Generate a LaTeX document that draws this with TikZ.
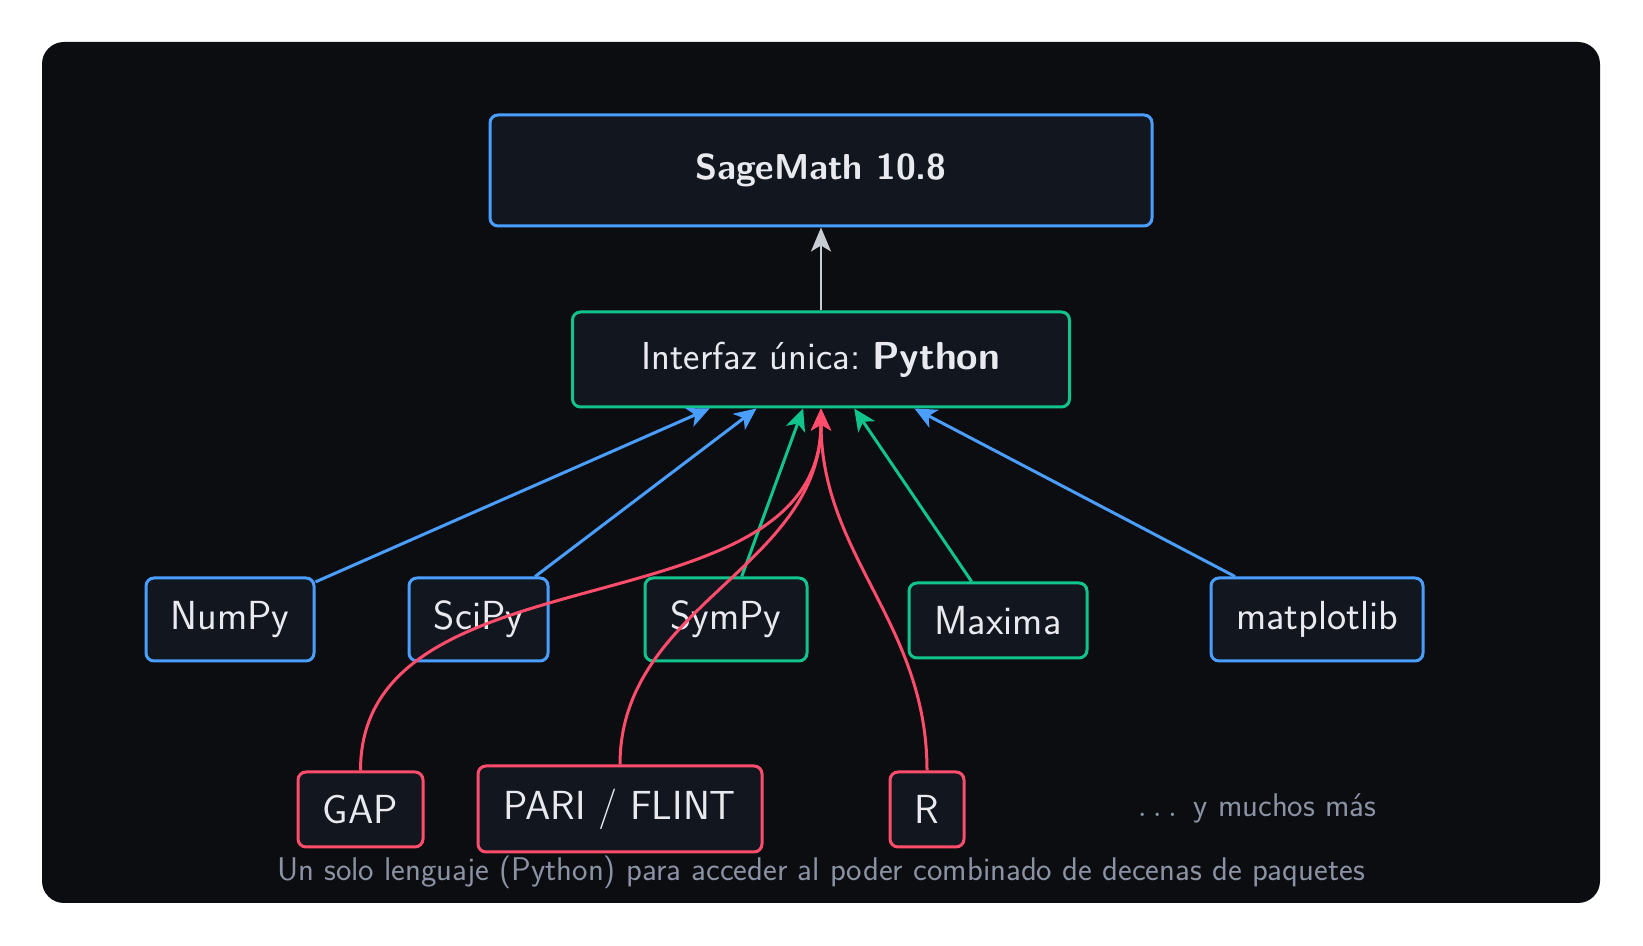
\documentclass[tikz,border=0pt]{standalone}
\usetikzlibrary{arrows.meta}
\definecolor{pagebg}{HTML}{0C0D11}
\definecolor{nodefill}{HTML}{12161F}
\definecolor{cblue}{HTML}{4A9EFF}
\definecolor{cgreen}{HTML}{10C48C}
\definecolor{cred}{HTML}{FF4D6B}
\definecolor{ctext}{HTML}{E8EAF0}
\definecolor{cgray}{HTML}{8A92A4}
\definecolor{carrow}{HTML}{C8CCD3}
\frenchspacing
\tikzset{
  box/.style={draw, rounded corners=4pt, fill=nodefill, line width=1.5pt, text=ctext,
    inner sep=0pt, font=\sffamily\fontsize{20.3}{24}\selectfont},
  bluebox/.style={box, draw=cblue},
  greenbox/.style={box, draw=cgreen},
  redbox/.style={box, draw=cred},
  link/.style={line width=1.5pt, -{Stealth[length=11pt,width=10pt,inset=3pt]}},
  note/.style={text=cgray, font=\sffamily\fontsize{16.4}{20}\selectfont, inner sep=0pt}
}
\begin{document}
\begin{tikzpicture}[x=0.5pt,y=0.5pt]
\useasboundingbox (0,0) rectangle (1643,946);
\fill[white] (0,0) rectangle (1643,946);
\fill[pagebg, rounded corners=11pt] (42,43) rectangle (1600,904);

\node[bluebox, minimum width=331pt, minimum height=55.5pt, font=\sffamily\bfseries\fontsize{18}{22}\selectfont] (sage) at (821,775.5) {SageMath 10.8};
\node[greenbox, minimum width=248.5pt, minimum height=47.5pt, font=\sffamily\fontsize{19.5}{23}\selectfont] (python) at (821,586.5) {Interfaz única: \textbf{Python}};

\node[bluebox, minimum width=84pt, minimum height=41.5pt] (numpy) at (230,326.5) {NumPy};
\node[bluebox, minimum width=69.5pt, minimum height=41.5pt] (scipy) at (478.5,326.5) {SciPy};
\node[greenbox, minimum width=81pt, minimum height=41.5pt] (sympy) at (726,326.5) {SymPy};
\node[greenbox, minimum width=89pt, minimum height=37.5pt] (maxima) at (998,325.5) {Maxima};
\node[bluebox, minimum width=106pt, minimum height=41.5pt] (mpl) at (1317,326.5) {matplotlib};

\node[redbox, minimum width=62.5pt, minimum height=37.5pt] (gap) at (360.5,136.5) {GAP};
\node[redbox, minimum width=142pt, minimum height=43pt] (pari) at (620,137) {PARI / FLINT};
\node[redbox, minimum width=37pt, minimum height=37.5pt] (r) at (927,136.5) {R};

\node[note] (more) at (1257,138) {$\ldots$\enspace y muchos más};
\node[note] (caption) at (821,74) {Un solo lenguaje (Python) para acceder al poder combinado de decenas de paquetes};

\draw[carrow, line width=1pt, -{Stealth[length=12pt,width=10pt,inset=3pt]}] (python) -- (sage);

\draw[link, cblue] (numpy) -- (python);
\draw[link, cblue] (scipy) -- (python);
\draw[link, cgreen] (sympy) -- (python);
\draw[link, cgreen] (maxima) -- (python);
\draw[link, cblue] (mpl) -- (python);

\draw[link, cred] (gap.north) to[out=90, in=-90] (python.south);
\draw[link, cred] (pari.north) to[out=90, in=-90] (python.south);
\draw[link, cred] (r.north) to[out=90, in=-90] (python.south);
\end{tikzpicture}
\end{document}
